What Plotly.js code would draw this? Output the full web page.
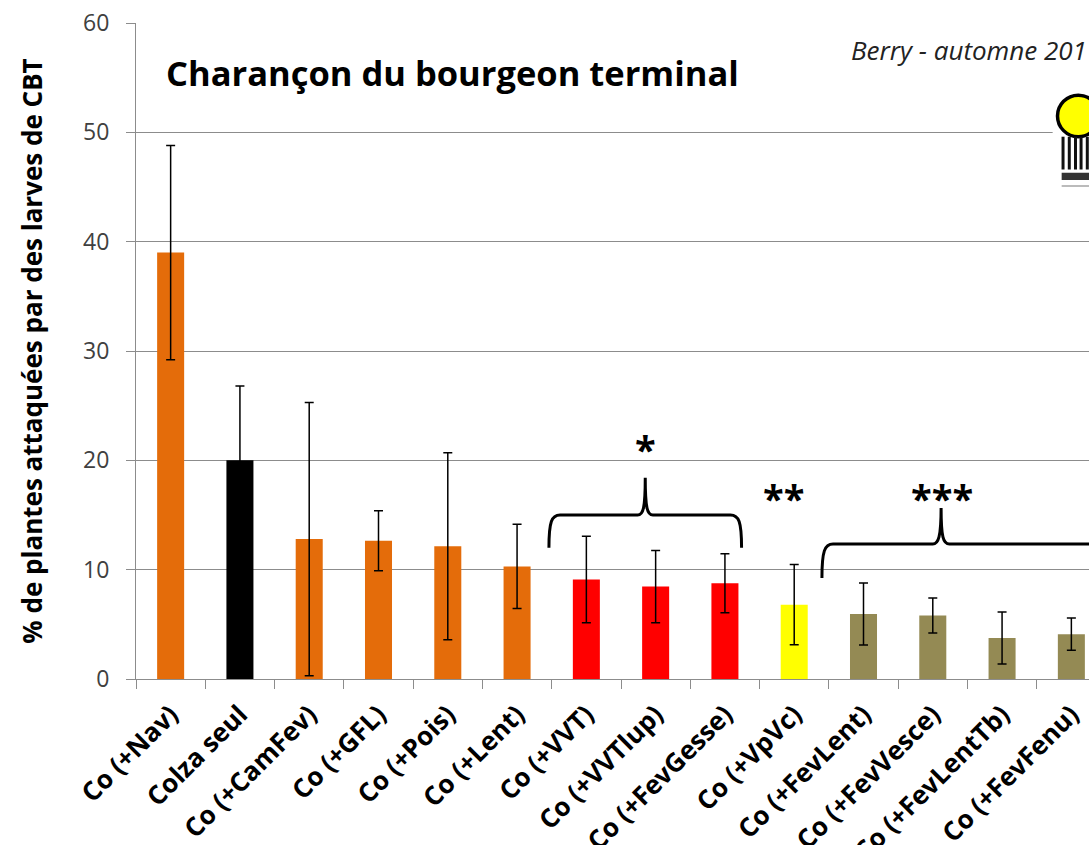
<!DOCTYPE html>
<html>
<head>
<meta charset="utf-8">
<script src="https://cdn.plot.ly/plotly-3.0.1.min.js"></script>
<style>
  html, body { margin: 0; padding: 0; overflow: hidden; background: #fff; }
</style>
</head>
<body>
<div id="chart"></div>
<script>
const categories = ["Co (+Nav)", "Colza seul", "Co (+CamFev)", "Co (+GFL)", "Co (+Pois)", "Co (+Lent)",
    "Co (+VVT)", "Co (+VVTlup)", "Co (+FevGesse)", "Co (+VpVc)", "Co (+FevLent)", "Co (+FevVesce)",
    "Co (+FevLentTb)", "Co (+FevFenu)"];
const attacked = [39.0, 20.0, 12.8, 12.65, 12.15, 10.3, 9.1, 8.45, 8.75, 6.8, 5.95, 5.8, 3.75, 4.1];
const errorBars = [9.8, 6.8, 12.5, 2.75, 8.55, 3.85, 3.95, 3.3, 2.7, 3.67, 2.83, 1.6, 2.37, 1.48];
const groups = ["orange", "control", "orange", "orange", "orange", "orange",
    "red", "red", "red", "yellow", "khaki", "khaki", "khaki", "khaki"];

const groupColors = {
    orange: "#E46C0A",
    control: "#000000",
    red: "#FF0000",
    yellow: "#FFFF00",
    khaki: "#948A54"
};

const font = "'Open Sans', Lato, sans-serif";

const trace = {
    x: categories,
    y: attacked,
    type: "bar",
    marker: { color: groups.map(g => groupColors[g]) },
    error_y: {
        type: "data",
        array: errorBars,
        visible: true,
        color: "#000000",
        thickness: 1.5,
        width: 4.5
    },
    hoverinfo: "x+y"
};

// curly braces over the significance groups (category index / data units)
const brace1 = "M 5.46,12 C 5.46,14.4 5.5,15 5.62,15 L 6.74,15 C 6.82,15 6.85,15.6 6.85,18.4 " +
    "C 6.85,15.6 6.88,15 6.96,15 L 8.08,15 C 8.2,15 8.24,14.4 8.24,12";
const brace2 = "M 9.40,9.24 C 9.40,11.7 9.44,12.35 9.56,12.35 L 11.0,12.35 C 11.08,12.35 11.12,13 11.12,15.65 " +
    "C 11.12,13 11.15,12.35 11.24,12.35 L 13.3,12.35 C 13.42,12.35 13.46,11.7 13.46,9.24";

// logo in the top right corner
const logoShapes = [
    { type: "rect", xref: "x", yref: "y", x0: 12.73, x1: 13.5, y0: 45.0, y1: 54.0,
      fillcolor: "#ffffff", line: { width: 0 } },
    { type: "circle", xref: "x", yref: "y", x0: 12.80, x1: 13.40, y0: 49.6, y1: 53.4,
      fillcolor: "#FFFF00", line: { color: "#000000", width: 3.5 } },
    { type: "rect", xref: "x", yref: "y", x0: 12.86, x1: 13.5, y0: 45.65, y1: 46.3,
      fillcolor: "#333333", line: { width: 0 } },
    { type: "line", xref: "x", yref: "y", x0: 12.86, x1: 13.5, y0: 45.1, y1: 45.1,
      line: { color: "#bbbbbb", width: 2 } }
];
[12.88, 12.97, 13.06, 13.14, 13.23].forEach(function (bx) {
    logoShapes.push({ type: "line", xref: "x", yref: "y", x0: bx, x1: bx, y0: 46.6, y1: 49.6,
        line: { color: "#111111", width: 3 } });
});

const layout = {
    width: 1130,
    height: 845,
    margin: { l: 136, r: 24, t: 23, b: 166 },
    paper_bgcolor: "#ffffff",
    plot_bgcolor: "#ffffff",
    showlegend: false,
    bargap: 0.61,
    font: { family: font, color: "#000000" },
    xaxis: {
        type: "category",
        tickangle: -45,
        tickson: "boundaries",
        ticks: "outside",
        ticklen: 9,
        tickcolor: "#8c8c8c",
        showline: true,
        linecolor: "#8c8c8c",
        linewidth: 1,
        tickfont: { family: font, size: 26, color: "#000000", weight: "bold" },
        ticklabelstandoff: 9,
        ticklabelshift: 0,
        range: [-0.5, 13.5],
        fixedrange: true
    },
    yaxis: {
        range: [0, 60],
        dtick: 10,
        ticks: "outside",
        ticklen: 9,
        tickcolor: "#8c8c8c",
        showline: true,
        linecolor: "#8c8c8c",
        linewidth: 1,
        showgrid: true,
        gridcolor: "#8c8c8c",
        gridwidth: 1,
        zeroline: false,
        tickfont: { family: font, size: 23, color: "#404040" },
        ticklabelstandoff: 12,
        title: {
            text: "% de plantes attaquées par des larves de CBT",
            font: { family: font, size: 26, color: "#000000", weight: "bold" },
            standoff: 32
        },
        fixedrange: true
    },
    shapes: [
        { type: "path", xref: "x", yref: "y", path: brace1, line: { color: "#000000", width: 3 } },
        { type: "path", xref: "x", yref: "y", path: brace2, line: { color: "#000000", width: 3 } }
    ].concat(logoShapes),
    annotations: [
        { text: "Charançon du bourgeon terminal", xref: "paper", yref: "paper", x: 0.029, y: 0.925,
          xanchor: "left", yanchor: "middle", showarrow: false,
          font: { family: font, size: 34.5, color: "#000000", weight: "bold" } },
        { text: "<i>Berry - automne 2011</i>", xref: "paper", yref: "paper", x: 0.735, y: 0.959,
          xanchor: "left", yanchor: "middle", showarrow: false,
          font: { family: font, size: 26, color: "#222222" } },
        { text: "*", xref: "x", yref: "y", x: 6.86, y: 21.0, showarrow: false,
          font: { family: font, size: 38, color: "#000000", weight: "bold" } },
        { text: "**", xref: "x", yref: "y", x: 8.85, y: 16.6, showarrow: false,
          font: { family: font, size: 38, color: "#000000", weight: "bold" } },
        { text: "***", xref: "x", yref: "y", x: 11.14, y: 16.6, showarrow: false,
          font: { family: font, size: 38, color: "#000000", weight: "bold" } }
    ]
};

Plotly.newPlot("chart", [trace], layout, { displayModeBar: false, staticPlot: true });
</script>
</body>
</html>
